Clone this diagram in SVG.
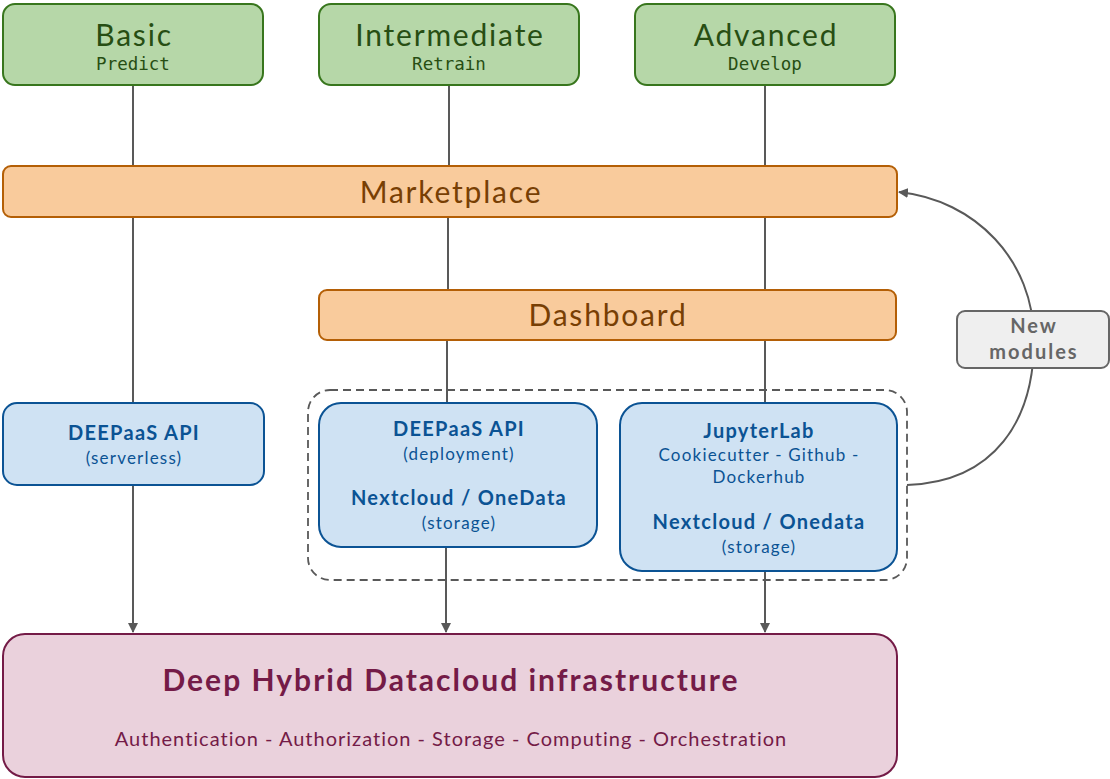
<svg xmlns="http://www.w3.org/2000/svg" width="1110" height="779" viewBox="0 0 1110 779">
<defs>
<marker id="ah" viewBox="0 0 10 10" refX="9" refY="5" markerWidth="10" markerHeight="10" markerUnits="userSpaceOnUse" orient="auto">
<path d="M0,0 L10,5 L0,10 z" fill="#595959"/>
</marker>
<style>
.lvl{fill:#b6d7a8;stroke:#38761d;stroke-width:2}
.lvlt{font-family:Lato,"Open Sans",sans-serif;font-size:30px;fill:#274e13;text-anchor:middle;letter-spacing:1.8px}
.lvls{font-family:"DejaVu Sans Mono",monospace;font-size:17.5px;fill:#274e13;text-anchor:middle}
.org{fill:#f9cb9c;stroke:#b45f06;stroke-width:2}
.orgt{font-family:Lato,"Open Sans",sans-serif;font-size:30px;fill:#783f04;text-anchor:middle;letter-spacing:1.8px}
.blu{fill:#cfe2f3;stroke:#0b5394;stroke-width:2}
.bb{font-family:Lato,"Open Sans",sans-serif;font-size:20px;font-weight:bold;fill:#0b5394;text-anchor:middle;letter-spacing:1.3px}
.bn{font-family:Lato,"Open Sans",sans-serif;font-size:17px;fill:#0b5394;text-anchor:middle;letter-spacing:1.2px}
.conn{stroke:#595959;stroke-width:2;fill:none}
.nm{font-family:Lato,"Open Sans",sans-serif;font-size:20px;font-weight:bold;fill:#666666;text-anchor:middle;letter-spacing:2px}
</style>
</defs>
<g id="connectors">
<path class="conn" d="M133,85 V166"/>
<path class="conn" d="M133,217 V403"/>
<path class="conn" d="M133,485 V632" marker-end="url(#ah)"/>
<path class="conn" d="M449,85 V166"/>
<path class="conn" d="M448,217 V290"/>
<path class="conn" d="M447,340 V403"/>
<path class="conn" d="M446,547 V632" marker-end="url(#ah)"/>
<path class="conn" d="M765,85 V166"/>
<path class="conn" d="M765,217 V290"/>
<path class="conn" d="M765,340 V403"/>
<path class="conn" d="M765,571 V632" marker-end="url(#ah)"/>
<path class="conn" d="M907,485 C995,482 1034,420 1034,340 C1034,260 975,200 899,192" marker-end="url(#ah)"/>
</g>
<g id="basic">
<rect class="lvl" x="3" y="4" width="260" height="81" rx="12"/>
<text class="lvlt" x="134" y="46">Basic</text>
<text class="lvls" x="133" y="70">Predict</text>
</g>
<g id="intermediate">
<rect class="lvl" x="319" y="4" width="260" height="81" rx="12"/>
<text class="lvlt" x="450" y="46">Intermediate</text>
<text class="lvls" x="449" y="70">Retrain</text>
</g>
<g id="advanced">
<rect class="lvl" x="635" y="4" width="260" height="81" rx="12"/>
<text class="lvlt" x="766" y="46">Advanced</text>
<text class="lvls" x="765" y="70">Develop</text>
</g>
<g id="marketplace">
<rect class="org" x="3" y="166" width="894" height="51" rx="8"/>
<text class="orgt" x="451" y="203">Marketplace</text>
</g>
<g id="dashboard">
<rect class="org" x="319" y="290" width="577" height="50" rx="8"/>
<text class="orgt" x="608" y="326">Dashboard</text>
</g>
<g id="group">
<rect x="308" y="390" width="599" height="190" rx="22" fill="none" stroke="#595959" stroke-width="1.8" stroke-dasharray="8,5"/>
</g>
<g id="deepaas-serverless">
<rect class="blu" x="3" y="403" width="261" height="82" rx="14"/>
<text class="bb" x="134" y="440">DEEPaaS API</text>
<text class="bn" x="134" y="464">(serverless)</text>
</g>
<g id="deepaas-deployment">
<rect class="blu" x="319" y="403" width="278" height="144" rx="22"/>
<text class="bb" x="459" y="436">DEEPaaS API</text>
<text class="bn" x="459" y="460">(deployment)</text>
<text class="bb" x="459" y="505">Nextcloud / OneData</text>
<text class="bn" x="459" y="529">(storage)</text>
</g>
<g id="jupyterlab">
<rect class="blu" x="620" y="403" width="277" height="168" rx="22"/>
<text class="bb" x="759" y="438">JupyterLab</text>
<text class="bn" x="759" y="461">Cookiecutter - Github -</text>
<text class="bn" x="759" y="483">Dockerhub</text>
<text class="bb" x="759" y="529">Nextcloud / Onedata</text>
<text class="bn" x="759" y="553">(storage)</text>
</g>
<g id="new-modules">
<rect x="957" y="311" width="152" height="57" rx="8" fill="#efefef" stroke="#666666" stroke-width="2"/>
<text class="nm" x="1034" y="333">New</text>
<text class="nm" x="1034" y="359">modules</text>
</g>
<g id="infrastructure">
<rect x="3" y="634" width="894" height="143" rx="22" fill="#ead1dc" stroke="#741b47" stroke-width="2"/>
<text x="451" y="691" font-family="Lato,'Open Sans',sans-serif" font-size="30" font-weight="bold" fill="#741b47" text-anchor="middle" letter-spacing="2">Deep Hybrid Datacloud infrastructure</text>
<text x="451" y="746" font-family="Lato,'Open Sans',sans-serif" font-size="20" fill="#741b47" text-anchor="middle" letter-spacing="1">Authentication - Authorization - Storage - Computing - Orchestration</text>
</g>
</svg>
